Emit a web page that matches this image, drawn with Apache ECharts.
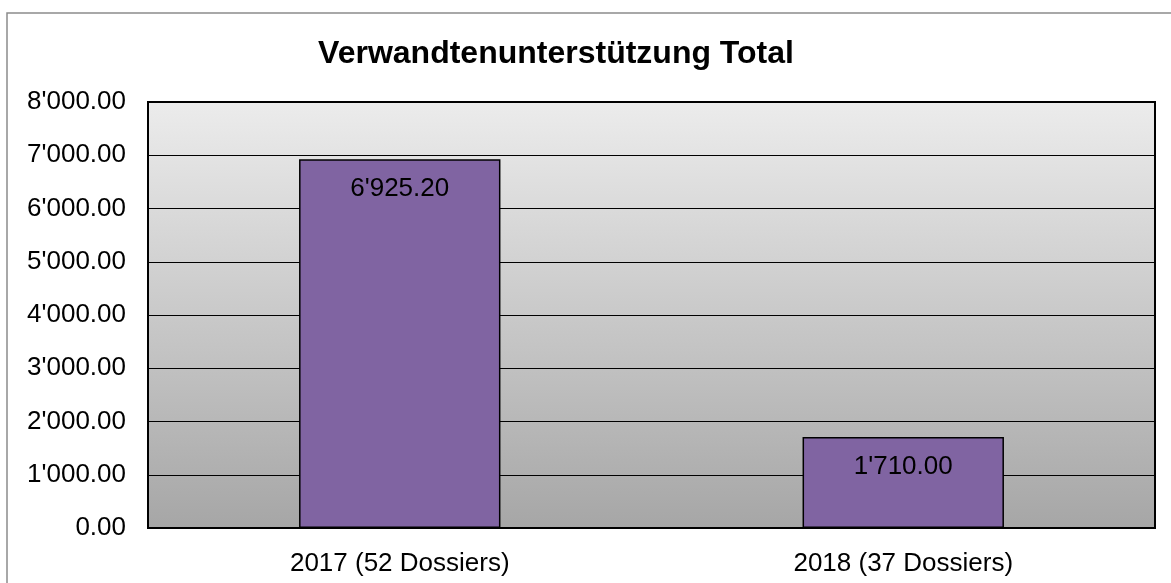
<!DOCTYPE html>
<html><head><meta charset="utf-8">
<script src="https://cdn.jsdelivr.net/npm/echarts@6/dist/echarts.min.js"></script>
<style>html,body{margin:0;padding:0;background:#fff}#c{width:1171px;height:583px}</style>
</head><body><div id="c"></div>
<script>
const categories = ['2017 (52 Dossiers)', '2018 (37 Dossiers)'];
const values = [6925.20, 1710.00];
const titleText = 'Verwandtenunterstützung Total';

function fmt(v) {
  const s = Number(v).toFixed(2);
  const [i, d] = s.split('.');
  return i.replace(/\B(?=(\d{3})+(?!\d))/g, "'") + '.' + d;
}

const chart = echarts.init(document.getElementById('c'));
chart.setOption({
  animation: false,
  title: {
    text: titleText, left: 551, top: 33, textAlign: 'center',
    textStyle: { fontFamily: 'Liberation Sans, Arial', fontSize: 32, fontWeight: 'bold', color: '#000' }
  },
  graphic: [{
    type: 'rect', shape: { x: 7, y: 13, width: 1300, height: 700 },
    style: { fill: 'none', stroke: '#8c8c8c', lineWidth: 1.5 }, z: -10
  }],
  grid: {
    left: 148, top: 102, right: 16, bottom: 55, show: true,
    backgroundColor: new echarts.graphic.LinearGradient(0, 0, 0, 1, [
      { offset: 0, color: '#ececec' }, { offset: 1, color: '#a6a6a6' }
    ]),
    borderColor: '#000', borderWidth: 2
  },
  xAxis: {
    type: 'category', data: categories,
    axisLine: { show: true, lineStyle: { color: '#000', width: 2 } },
    axisTick: { show: false },
    axisLabel: { fontFamily: 'Liberation Sans, Arial', fontSize: 26, color: '#000', margin: 23 }
  },
  yAxis: {
    type: 'value', min: 0, max: 8000, interval: 1000,
    axisLine: { show: false }, axisTick: { show: false },
    splitLine: { lineStyle: { color: '#000', width: 1.2 } },
    axisLabel: { fontFamily: 'Liberation Sans, Arial', fontSize: 26, color: '#000', margin: 22, formatter: fmt }
  },
  series: [{
    type: 'bar', data: values, barWidth: '40%',
    itemStyle: { color: '#8064a2', borderColor: '#000', borderWidth: 1.5 },
    label: {
      show: true, position: 'insideTop', distance: 17,
      fontFamily: 'Liberation Sans, Arial', fontSize: 26, color: '#000', formatter: p => fmt(p.value)
    }
  }]
});
</script></body></html>
